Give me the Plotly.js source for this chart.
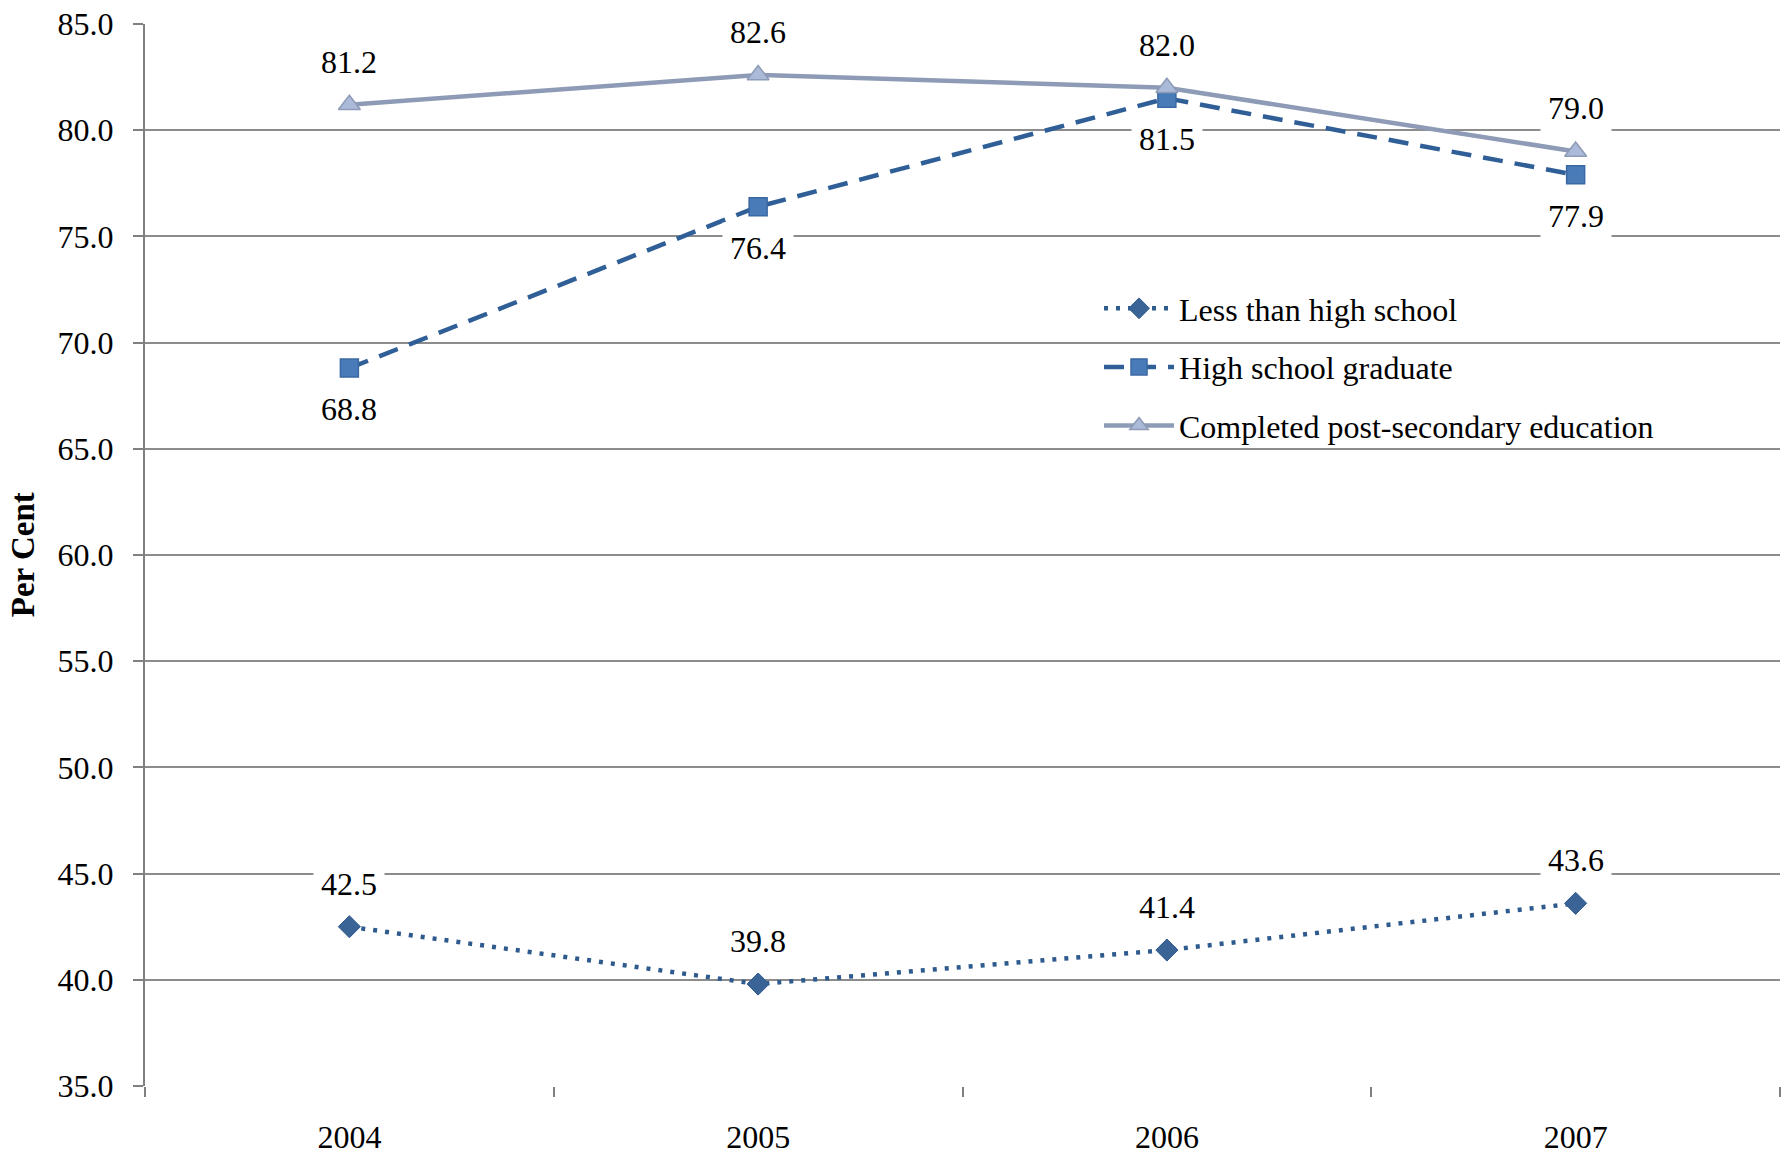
<!DOCTYPE html>
<html>
<head>
<meta charset="utf-8">
<script src="https://cdn.plot.ly/plotly-3.0.1.min.js"></script>
<style>html,body{margin:0;padding:0;background:#fff;}#chart{width:1781px;height:1157px;}</style>
</head>
<body>
<div id="chart"></div>
<script>
// Data
var years = ['2004', '2005', '2006', '2007'];
var lessHS = [42.5, 39.8, 41.4, 43.6];
var hsGrad = [68.8, 76.4, 81.5, 77.9];
var postSec = [81.2, 82.6, 82.0, 79.0];
var seriesNames = ['Less than high school', 'High school graduate', 'Completed post-secondary education'];
var yTicks = [35, 40, 45, 50, 55, 60, 65, 70, 75, 80, 85];

var FONT = 'Liberation Serif, Times New Roman, serif';

var traces = [
  {
    x: years, y: lessHS, name: seriesNames[0], type: 'scatter', mode: 'lines+markers',
    legendgroup: 'a',
    line: {color: '#2E5A8E', width: 4.5, dash: '4px,8px'},
    marker: {symbol: 'diamond', size: 17, color: '#3A6396', line: {color: '#2E5A8E', width: 1}}
  },
  {
    x: years, y: hsGrad, name: seriesNames[1], type: 'scatter', mode: 'lines+markers',
    legendgroup: 'b',
    line: {color: '#2F5F96', width: 4.5, dash: '20px,12px'},
    marker: {symbol: 'square', size: 18, color: '#4A7BB9', line: {color: '#3A68A3', width: 1.5}}
  },
  {
    x: years, y: postSec, name: seriesNames[2], type: 'scatter', mode: 'lines+markers',
    legendgroup: 'c',
    line: {color: '#8E9BB6', width: 4.5},
    marker: {symbol: 'triangle-up', size: 19, color: '#AABAD8', line: {color: '#8E9BB6', width: 1.5}}
  }
];

function makeAnns(vals, shift) {
  return vals.map(function (v, i) {
    return {
      x: i, y: v, xref: 'x', yref: 'y', text: v.toFixed(1), showarrow: false,
      yshift: shift, bgcolor: '#ffffff', borderpad: 7,
      font: {family: FONT, size: 32, color: '#000'}
    };
  });
}
var annotations = []
  .concat(makeAnns(lessHS, 43))
  .concat(makeAnns(hsGrad, -41))
  .concat(makeAnns(postSec, 43));

annotations.push({
  xref: 'paper', yref: 'paper', x: -0.0745, y: 0.5, xanchor: 'center', yanchor: 'middle',
  text: '<b>Per Cent</b>', textangle: -90, showarrow: false,
  font: {family: FONT, size: 33, color: '#000'}
});

var layout = {
  width: 1781, height: 1157,
  margin: {l: 145, r: 1, t: 24, b: 71},
  paper_bgcolor: '#fff', plot_bgcolor: '#fff',
  showlegend: true,
  legend: {
    x: 0.5835, y: 0.758, xanchor: 'left', yanchor: 'top',
    bgcolor: 'rgba(0,0,0,0)', tracegroupgap: 14, itemwidth: 70,
    font: {family: FONT, size: 32, color: '#000'}
  },
  xaxis: {
    type: 'category', range: [-0.5, 3.5], tickson: 'boundaries',
    ticks: 'outside', ticklen: 10, tickwidth: 2, tickcolor: '#808080',
    showline: false, showgrid: false, zeroline: false,
    ticklabelstandoff: 29,
    tickfont: {family: FONT, size: 32, color: '#000'}
  },
  yaxis: {
    range: [35, 85], tickvals: yTicks, ticktext: yTicks.map(function (v) { return v.toFixed(1); }),
    ticks: 'outside', ticklen: 10, tickwidth: 2, tickcolor: '#808080',
    showline: true, linecolor: '#808080', linewidth: 2,
    showgrid: true, gridcolor: '#8C8C8C', gridwidth: 2, zeroline: false,
    ticklabelstandoff: 13,
    tickfont: {family: FONT, size: 32, color: '#000'}
  },
  annotations: annotations
};

Plotly.newPlot('chart', traces, layout, {displayModeBar: false, staticPlot: true});
</script>
</body>
</html>
